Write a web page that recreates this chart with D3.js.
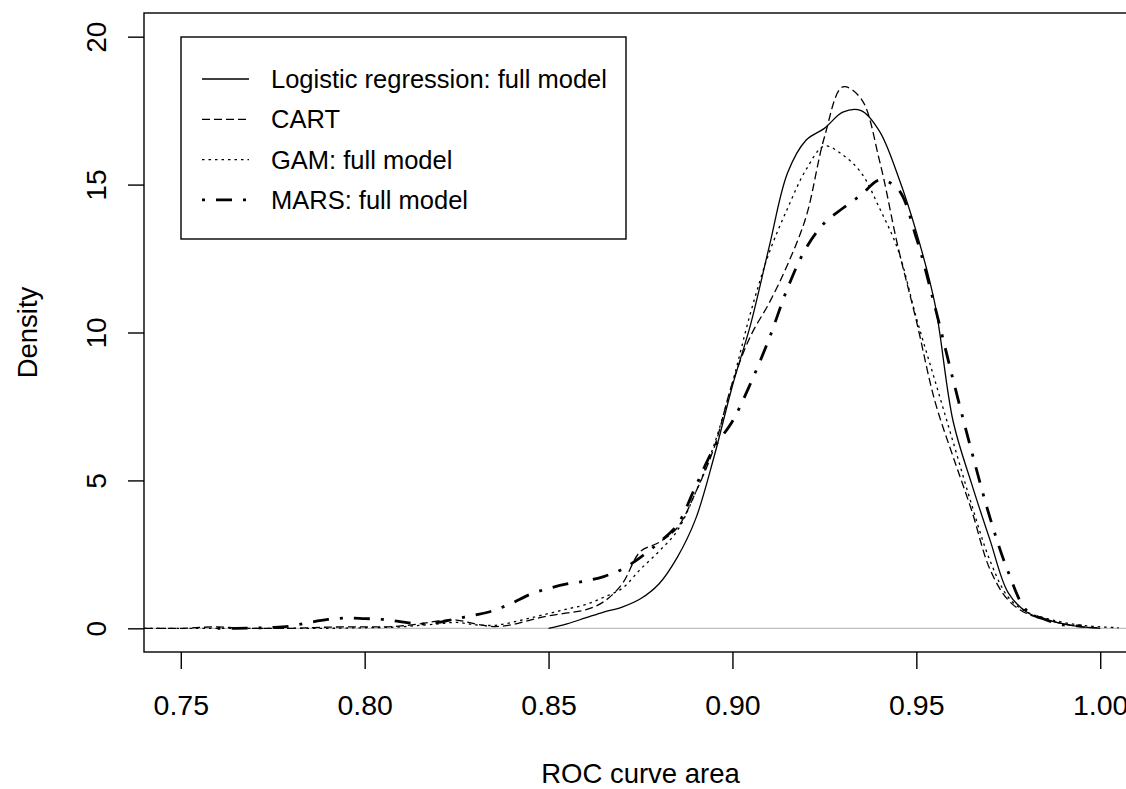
<!DOCTYPE html>
<html>
<head>
<meta charset="utf-8">
<script src="https://cdn.jsdelivr.net/npm/d3@7"></script>
<style>
  body { margin: 0; background: #fff; }
  svg text { font-family: "Liberation Sans", Arial, sans-serif; fill: #000; }
</style>
</head>
<body>
<svg id="chart"></svg>
<script>
// ROC curve area grid (x) and density for each model
const rocArea = [0.740, 0.745, 0.750, 0.755, 0.760, 0.765, 0.770, 0.775, 0.780, 0.785,
    0.790, 0.795, 0.800, 0.805, 0.810, 0.815, 0.820, 0.825, 0.830, 0.835,
    0.840, 0.845, 0.850, 0.855, 0.860, 0.865, 0.870, 0.875, 0.880, 0.885,
    0.890, 0.895, 0.900, 0.905, 0.910, 0.915, 0.920, 0.925, 0.930, 0.935,
    0.940, 0.945, 0.950, 0.955, 0.960, 0.965, 0.970, 0.975, 0.980, 0.985,
    0.990, 0.995, 1.000, 1.005, 1.010];

const logitDensity = [null, null, null, null, null, null, null, null, null, null,
    null, null, null, null, null, null, null, null, null, null,
    null, null, 0.0, 0.15, 0.35, 0.55, 0.72, 1.0, 1.5, 2.4,
    3.7, 5.8, 8.2, 10.3, 12.9, 15.4, 16.5, 16.9, 17.45, 17.5,
    16.8, 15.3, 13.4, 11.0, 7.0, 4.9, 3.0, 1.2, 0.55, 0.3,
    0.15, 0.05, 0.0, null, null];

const cartDensity = [0.0, 0.0, 0.0, 0.03, 0.05, 0.02, 0.0, 0.0, 0.0, 0.02,
    0.04, 0.05, 0.05, 0.05, 0.08, 0.15, 0.25, 0.28, 0.15, 0.06,
    0.12, 0.28, 0.42, 0.52, 0.62, 0.9, 1.5, 2.6, 2.9, 3.4,
    4.6, 6.1, 8.3, 9.9, 11.0, 12.3, 13.9, 16.6, 18.3, 17.9,
    15.8, 12.9, 10.4, 7.7, 5.8, 4.0, 2.0, 0.95, 0.5, 0.3,
    0.15, 0.05, 0.02, null, null];

const gamDensity = [0.0, 0.0, 0.0, 0.0, 0.0, 0.0, 0.0, 0.0, 0.0, 0.0,
    0.0, 0.01, 0.02, 0.03, 0.05, 0.1, 0.15, 0.2, 0.12, 0.1,
    0.2, 0.35, 0.5, 0.65, 0.8, 1.05, 1.35, 2.0, 2.6, 3.3,
    4.6, 6.2, 8.3, 10.7, 12.7, 14.2, 15.5, 16.3, 16.0, 15.4,
    14.2, 12.8, 10.5, 8.4, 6.3, 4.2, 2.3, 1.05, 0.55, 0.35,
    0.2, 0.1, 0.05, 0.02, null];

const marsDensity = [null, null, null, null, 0.0, 0.0, 0.01, 0.03, 0.08, 0.2,
    0.3, 0.35, 0.33, 0.3, 0.22, 0.15, 0.2, 0.33, 0.45, 0.6,
    0.85, 1.15, 1.35, 1.5, 1.6, 1.75, 2.0, 2.4, 2.9, 3.5,
    4.8, 6.1, 7.0, 8.3, 9.8, 11.5, 12.85, 13.7, 14.2, 14.65,
    15.15, 14.85, 13.2, 10.9, 8.4, 6.0, 3.75, 1.9, 0.6, 0.3,
    0.12, 0.08, null, null, null];

const modelNames = ["Logistic regression: full model", "CART", "GAM: full model", "MARS: full model"];
const xTicks = [0.75, 0.80, 0.85, 0.90, 0.95, 1.00];
const yTicks = [0, 5, 10, 15, 20];

const series = [logitDensity, cartDensity, gamDensity, marsDensity];
const lineStyles = [
    { dash: null, width: 1.3 },
    { dash: "8,4", width: 1.3 },
    { dash: "2.5,4", width: 1.3 },
    { dash: "3,11,16,11", width: 2.8 }
];

const width = 1126;
const height = 789;

const svg = d3.select("#chart")
    .attr("width", width)
    .attr("height", height);

const x = d3.scaleLinear()
    .domain([0.74, 1.01])
    .range([144, 1137]);

const y = d3.scaleLinear()
    .domain([-0.8, 20.8])
    .range([652, 13]);

svg.append("defs").append("clipPath")
    .attr("id", "plot-clip")
  .append("rect")
    .attr("x", x(0.74))
    .attr("y", y(20.8))
    .attr("width", x(1.01) - x(0.74))
    .attr("height", y(-0.8) - y(20.8));

// abline(h = 0, col = "gray")
svg.append("line")
    .attr("x1", x(0.74))
    .attr("x2", x(1.01))
    .attr("y1", y(0))
    .attr("y2", y(0))
    .attr("stroke", "#bebebe")
    .attr("stroke-width", 1.4);

const line = d3.line()
    .defined(d => d[1] !== null)
    .x(d => x(d[0]))
    .y(d => y(d[1]))
    .curve(d3.curveCatmullRom);

svg.append("g")
    .attr("clip-path", "url(#plot-clip)")
  .selectAll("path")
  .data(series)
  .join("path")
    .attr("fill", "none")
    .attr("stroke", "#000")
    .attr("stroke-linejoin", "round")
    .attr("stroke-width", (d, i) => lineStyles[i].width)
    .attr("stroke-dasharray", (d, i) => lineStyles[i].dash)
    .attr("d", d => line(rocArea.map((r, i) => [r, d[i]])));

// plot box
svg.append("rect")
    .attr("x", x(0.74))
    .attr("y", y(20.8))
    .attr("width", x(1.01) - x(0.74))
    .attr("height", y(-0.8) - y(20.8))
    .attr("fill", "none")
    .attr("stroke", "#000")
    .attr("stroke-width", 1.4);

const xAxis = svg.append("g")
    .attr("transform", `translate(0,${y(-0.8)})`)
    .call(d3.axisBottom(x)
        .tickValues(xTicks)
        .tickSize(17)
        .tickPadding(26)
        .tickFormat(d3.format(".2f")));
xAxis.select(".domain").remove();
xAxis.attr("font-family", null);
xAxis.selectAll("line").attr("stroke", "#000").attr("stroke-width", 1.4);
xAxis.selectAll("text")
    .attr("font-size", 28.5)
    .attr("fill", "#000");

const yAxis = svg.append("g")
    .attr("transform", `translate(${x(0.74)},0)`)
    .call(d3.axisLeft(y)
        .tickValues(yTicks)
        .tickSize(16));
yAxis.select(".domain").remove();
yAxis.attr("font-family", null);
yAxis.selectAll("line").attr("stroke", "#000").attr("stroke-width", 1.4);
yAxis.selectAll("text")
    .attr("x", 0)
    .attr("dy", 0)
    .attr("text-anchor", "middle")
    .attr("transform", "translate(-38,0) rotate(-90)")
    .attr("font-size", 28)
    .attr("fill", "#000");

svg.append("text")
    .attr("x", (x(0.74) + x(1.01)) / 2)
    .attr("y", 783)
    .attr("text-anchor", "middle")
    .attr("font-size", 27.5)
    .text("ROC curve area");

svg.append("text")
    .attr("transform", `translate(37,${(y(-0.8) + y(20.8)) / 2}) rotate(-90)`)
    .attr("text-anchor", "middle")
    .attr("font-size", 27.5)
    .text("Density");

// legend
const legend = svg.append("g");
legend.append("rect")
    .attr("x", 181)
    .attr("y", 37)
    .attr("width", 445)
    .attr("height", 202)
    .attr("fill", "#fff")
    .attr("stroke", "#000")
    .attr("stroke-width", 1.4);

const rows = legend.selectAll("g.row")
    .data(modelNames)
    .join("g")
    .attr("class", "row")
    .attr("transform", (d, i) => `translate(0,${79 + i * 40.3})`);

rows.append("line")
    .attr("x1", 202)
    .attr("x2", 249)
    .attr("stroke", "#000")
    .attr("stroke-width", (d, i) => lineStyles[i].width)
    .attr("stroke-dasharray", (d, i) => lineStyles[i].dash);

rows.append("text")
    .attr("x", 271)
    .attr("dy", "0.35em")
    .attr("font-size", 25.5)
    .text(d => d);
</script>
</body>
</html>
